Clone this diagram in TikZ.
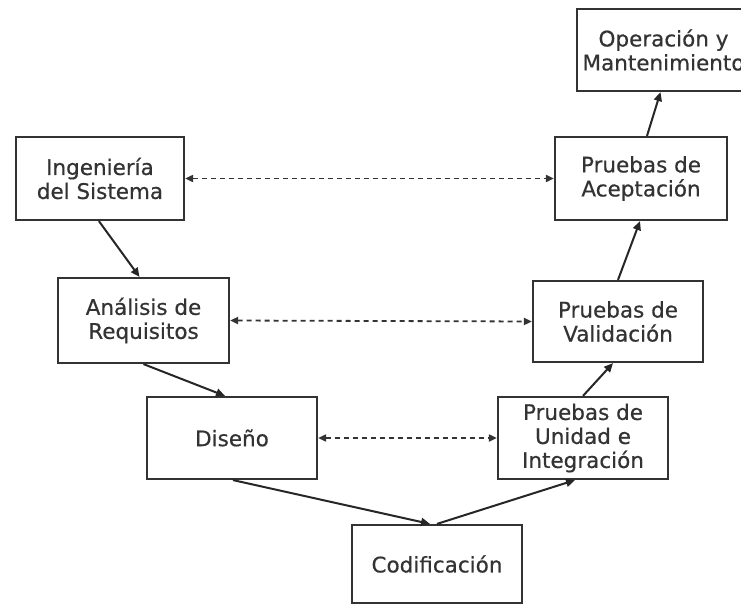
\documentclass[tikz,border=0pt]{standalone}
\usepackage{fontspec}
\setmainfont{DejaVu Sans}
\newfontfamily\boxfont[FakeBold=0.5]{DejaVu Sans}
\usetikzlibrary{arrows.meta}
\begin{document}
\begin{tikzpicture}[x=1pt,y=-1pt,
  box/.style={draw=black!80,line width=2.2pt,fill=white,align=center,
    text=black!80,font=\boxfont\fontsize{21.5}{24}\selectfont,inner sep=0pt},
  flow/.style={draw=black!85,line width=2pt,-{Triangle[length=9pt,width=8pt]}},
  link/.style={draw=black!80,line width=1.8pt,dash pattern=on 5pt off 4pt,
    {Triangle[length=8pt,width=7pt]}-{Triangle[length=8pt,width=7pt]}}]
\useasboundingbox (0,0) rectangle (741,607);
\clip (0,0) rectangle (741,607);
\node[box,minimum width=173pt,minimum height=82pt] (op) at (663.5,50) {Operación y\\Mantenimiento};
\node[box,minimum width=168pt,minimum height=83pt] (ing) at (100,178.5) {Ingeniería\\del Sistema};
\node[box,minimum width=172pt,minimum height=83pt] (ace) at (641,178.5) {Pruebas de\\Aceptación};
\node[box,minimum width=171pt,minimum height=85pt] (ana) at (143.5,320.5) {Análisis de\\Requisitos};
\node[box,minimum width=170pt,minimum height=81pt] (val) at (618,321.5) {Pruebas de\\Validación};
\node[box,minimum width=170pt,minimum height=82pt] (dis) at (232,438) {Diseño};
\node[box,minimum width=170pt,minimum height=82pt] (uni) at (583,438) {Pruebas de\\Unidad e\\Integración};
\node[box,minimum width=170pt,minimum height=78pt] (cod) at (437,564) {Codificación};
\draw[flow] (ing.south west)++(84,0) coordinate (a1) -- ([xshift=-4pt]ana.north);
\draw[flow] ([xshift=0pt]ana.south) -- ([xshift=-7pt]dis.north);
\draw[flow] ([xshift=1pt]dis.south) -- ([xshift=-7pt]cod.north);
\draw[flow] ([xshift=0pt]cod.north) -- ([xshift=-8pt]uni.south);
\draw[flow] ([xshift=0pt]uni.north) -- ([xshift=-5pt]val.north |- val.south);
\draw[flow] ([xshift=0pt]val.north) -- ([xshift=-1pt]ace.south);
\draw[flow] ([xshift=6pt]ace.north) -- ([xshift=-3pt]op.south);
\draw[link] (ing.east) -- (ace.west);
\draw[link] (ana.east) -- (val.west);
\draw[link] (dis.east) -- (uni.west);
\end{tikzpicture}
\end{document}
